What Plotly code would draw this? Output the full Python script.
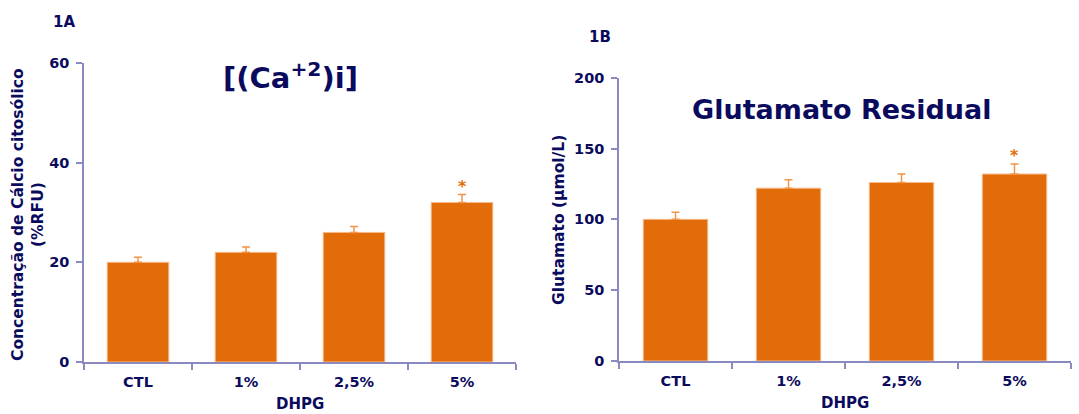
import plotly.graph_objects as go

# Data
categories = ["CTL", "1%", "2,5%", "5%"]
calcio = [20, 22, 26, 32]
calcio_err = [1.0, 1.1, 1.2, 1.6]
calcio_ticks = [0, 20, 40, 60]
glutamato = [100, 122, 126, 132]
glutamato_err = [5, 6, 6, 7]
glutamato_ticks = [0, 50, 100, 150, 200]
significant = [False, False, False, True]

W, H = 1079, 414
NAVY = "#0b0b5e"
BAR = "#e36c0a"
BAR_EDGE = "#f6b98a"
ERR = "#f0954a"
AXIS = "#8a8ac0"
FONT = "DejaVu Sans"


def px_x(v):
    return v / W


def px_y(v):
    return 1 - v / H


def bold(values):
    return [f"<b>{v}</b>" for v in values]


fig = go.Figure()

bar_style = dict(
    marker=dict(color=BAR, line=dict(color=BAR_EDGE, width=1)),
    showlegend=False,
    hoverinfo="skip",
)

fig.add_trace(go.Bar(
    x=categories, y=calcio, xaxis="x", yaxis="y",
    error_y=dict(type="data", array=calcio_err, arrayminus=[0] * 4,
                 symmetric=False, color=ERR, thickness=1.5, width=4),
    **bar_style,
))
fig.add_trace(go.Bar(
    x=categories, y=glutamato, xaxis="x2", yaxis="y2",
    error_y=dict(type="data", array=glutamato_err, arrayminus=[0] * 4,
                 symmetric=False, color=ERR, thickness=1.5, width=4),
    **bar_style,
))

tick_font = dict(family=FONT, size=14.5, color=NAVY)
common_x = dict(
    type="category", range=[-0.5, 3.5], showline=True, linecolor=AXIS,
    linewidth=1.5, ticks="outside", tickson="boundaries", ticklen=6,
    tickcolor=AXIS, tickwidth=1.5, tickfont=tick_font, showgrid=False,
    zeroline=False, fixedrange=True, automargin=False,
    tickvals=categories, ticktext=bold(categories), ticklabelstandoff=6,
)
common_y = dict(
    showline=True, linecolor=AXIS, linewidth=1.5, ticks="outside",
    ticklen=6, tickcolor=AXIS, tickwidth=1.5, tickfont=tick_font,
    showgrid=False, zeroline=False, fixedrange=True, automargin=False,
    ticklabelstandoff=4,
)

fig.update_layout(
    width=W, height=H,
    margin=dict(l=0, r=0, t=0, b=0, autoexpand=False),
    paper_bgcolor="white", plot_bgcolor="white",
    bargap=0.43,
    font=dict(family=FONT, color=NAVY),
    xaxis=dict(domain=[px_x(84), px_x(516)], anchor="y", **common_x),
    yaxis=dict(domain=[px_y(362), px_y(63)], anchor="x", range=[0, 60],
               tickvals=calcio_ticks, ticktext=bold(calcio_ticks), **common_y),
    xaxis2=dict(domain=[px_x(619), px_x(1071)], anchor="y2", **common_x),
    yaxis2=dict(domain=[px_y(361), px_y(77.7)], anchor="x2", range=[0, 200],
                tickvals=glutamato_ticks, ticktext=bold(glutamato_ticks),
                **common_y),
)

annotations = []


def txt(x, y, text, size, xref="paper", yref="paper", angle=0, color=NAVY,
        xanchor="center", yanchor="middle", yshift=0):
    annotations.append(dict(
        x=x, y=y, xref=xref, yref=yref, text=text, showarrow=False,
        textangle=angle, xanchor=xanchor, yanchor=yanchor, yshift=yshift,
        font=dict(family=FONT, size=size, color=color),
    ))


# Panel labels and titles
txt(px_x(51), px_y(22), "<b>1A</b>", 15, xanchor="left")
txt(px_x(587), px_y(37), "<b>1B</b>", 15, xanchor="left")
txt(px_x(290), px_y(76), "<b>[(Ca<sup>+2</sup>)i]</b>", 29)
txt(px_x(841), px_y(109), "<b>Glutamato Residual</b>", 27)

# Axis titles
txt(px_x(18), px_y(215), "<b>Concentração de Cálcio citosólico</b>", 15.5, angle=-90)
txt(px_x(38), px_y(215), "<b>(%RFU)</b>", 15.5, angle=-90)
txt(px_x(300), px_y(404), "<b>DHPG</b>", 15)
txt(px_x(559), px_y(220), "<b>Glutamato (μmol/L)</b>", 15.5, angle=-90)
txt(px_x(845), px_y(403), "<b>DHPG</b>", 15)

# Significance markers above error bars
for cat, v, e, s in zip(categories, calcio, calcio_err, significant):
    if s:
        txt(cat, v + e, "<b>*</b>", 16, xref="x", yref="y", color=BAR,
            yanchor="bottom", yshift=-3)
for cat, v, e, s in zip(categories, glutamato, glutamato_err, significant):
    if s:
        txt(cat, v + e, "<b>*</b>", 16, xref="x2", yref="y2", color=BAR,
            yanchor="bottom", yshift=-3)

fig.update_layout(annotations=annotations)
fig.write_html("out.html")
